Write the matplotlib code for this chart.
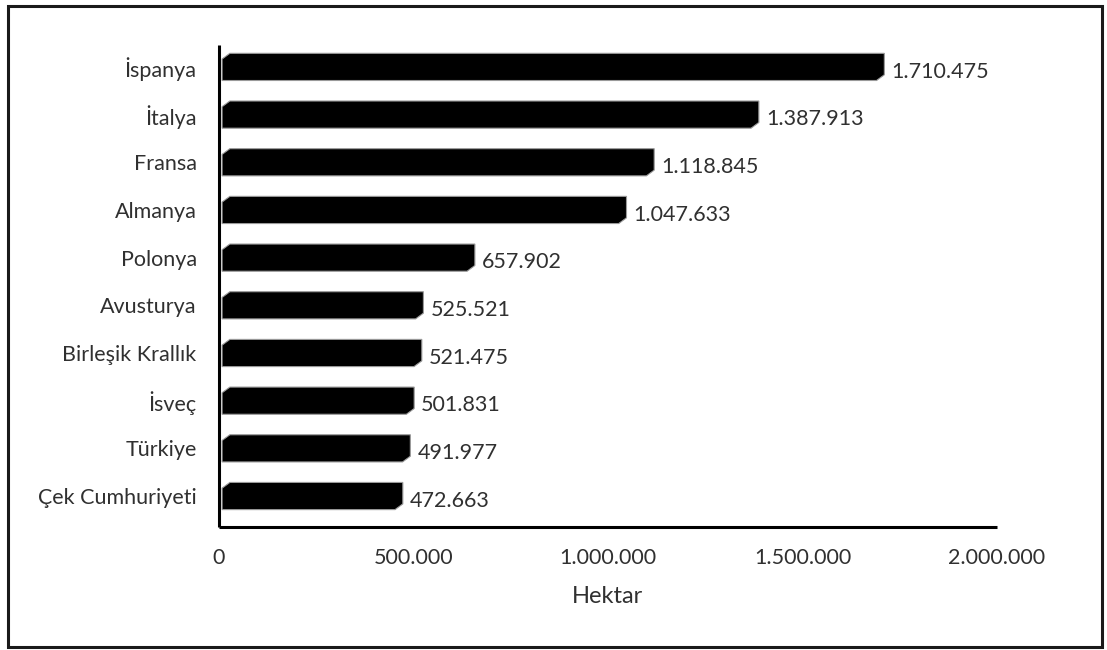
import matplotlib
matplotlib.use("Agg")
import matplotlib.pyplot as plt
from matplotlib.patches import Polygon, Rectangle
from matplotlib.ticker import FuncFormatter

countries = ["İspanya", "İtalya", "Fransa", "Almanya", "Polonya", "Avusturya",
             "Birleşik Krallık", "İsveç", "Türkiye", "Çek Cumhuriyeti"]
hectares = [1710475, 1387913, 1118845, 1047633, 657902, 525521,
            521475, 501831, 491977, 472663]
x_ticks = [0, 500000, 1000000, 1500000, 2000000]
x_label = "Hektar"


def tr_number(v):
    return f"{int(v):,}".replace(",", ".")


plt.rcParams["font.family"] = ["Lato", "DejaVu Sans"]
text_color = "#303030"

fig = plt.figure(figsize=(11.07, 6.5), dpi=100)
ax = fig.add_axes([0.1978, 0.1892, 0.7028, 0.7416])

ypos = list(range(len(countries)))
bars = ax.barh(ypos, hectares, height=0.57, color="black")

ax.set_xlim(0, 2000000)
ax.set_ylim(len(countries) - 1 + 0.65, -0.46)

# Replace each rectangle by a chamfered shape (top-left and bottom-right corners cut)
cx = 20000    # horizontal chamfer, data units
cy = 0.12     # vertical chamfer, data units
gap = 8000    # small gap between the axis line and the bars
for rect in bars.patches:
    x0, y0 = rect.get_x(), rect.get_y()
    w, h = rect.get_width(), rect.get_height()
    top, bot = y0, y0 + h  # inverted y axis: smaller y is visually on top
    pts = [(x0 + gap, top + cy), (x0 + gap + cx, top), (x0 + w, top),
           (x0 + w, bot - cy), (x0 + w - cx, bot), (x0 + gap, bot)]
    ax.add_patch(Polygon(pts, closed=True, facecolor="black",
                         edgecolor="#9a9a9a", linewidth=0.8, zorder=3))
    rect.set_visible(False)
    ax.text(x0 + w + 18000, y0 + h / 2 + 0.1, tr_number(w), va="center",
            ha="left", fontsize=15.5, color=text_color)

ax.set_yticks(ypos)
ax.set_yticklabels(countries)
ax.set_xticks(x_ticks)
ax.xaxis.set_major_formatter(FuncFormatter(lambda v, p: tr_number(v)))
ax.tick_params(axis="both", length=0, labelsize=15.5, labelcolor=text_color)
ax.tick_params(axis="x", pad=15)
ax.tick_params(axis="y", pad=16)
ax.set_xlabel(x_label, fontsize=17, color=text_color, labelpad=13)

for side in ("top", "right"):
    ax.spines[side].set_visible(False)
for side in ("left", "bottom"):
    ax.spines[side].set_linewidth(2.2)
    ax.spines[side].set_color("black")
    ax.spines[side].set_capstyle("butt")

# Frame around the whole chart area
fig.patches.append(Rectangle((8 / 1107, 3 / 650), 1094 / 1107, 641 / 650,
                             transform=fig.transFigure, fill=False,
                             edgecolor="#1a1a1a", linewidth=2.2))

fig.savefig("out.png", dpi=100)
